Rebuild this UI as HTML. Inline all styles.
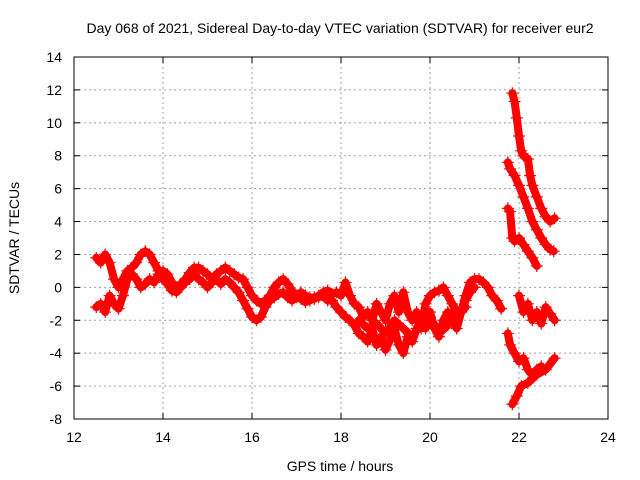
<!DOCTYPE html>
<html><head><meta charset="utf-8"><style>
body{margin:0;background:#fff}
svg{display:block;font-family:"Liberation Sans",sans-serif}
</style></head><body>
<svg id="c" width="640" height="480"></svg>
<script>
const xTicks=[12,14,16,18,20,22,24];
const yTicks=[-8,-6,-4,-2,0,2,4,6,8,10,12,14];
const s1t=[12.5,12.6,12.7,12.8,12.9,13.0,13.1,13.2,13.3,13.4,13.5,13.6,13.7,13.8,13.9,14.0,14.1,14.2,14.3,14.4,14.5,14.6,14.7,14.8,14.9,15.0,15.1,15.2,15.3,15.4,15.5,15.6,15.7,15.8,15.9,16.0,16.1,16.2,16.3,16.4,16.5,16.6,16.7,16.8,16.9,17.0,17.1,17.2,17.3,17.4,17.5,17.6,17.7,17.8,17.9,18.0,18.1,18.2,18.3,18.4,18.5,18.6,18.7,18.8,18.9,19.0,19.1,19.2,19.3,19.4,19.5,19.6,19.7,19.8,19.9,20.0,20.1,20.2,20.3,20.4,20.5,20.6,20.7,20.8,20.9,21.0,21.1,21.2,21.3,21.4,21.5,21.6];
const s1v=[1.8,1.5,2.0,1.5,0.5,0.0,0.5,1.0,1.2,1.5,2.0,2.2,2.0,1.5,1.0,1.0,0.8,0.3,0.0,0.2,0.5,0.9,1.2,1.2,1.0,0.8,0.5,0.8,1.0,1.2,1.0,0.8,0.6,0.5,0.0,-0.5,-0.8,-1.0,-0.8,-0.5,0.0,0.3,0.5,0.2,-0.2,-0.5,-0.3,-0.5,-0.6,-0.7,-0.5,-0.3,-0.2,-0.4,-0.3,-0.5,0.3,-0.5,-1.0,-1.2,-1.8,-1.5,-2.0,-1.0,-1.5,-2.0,-1.0,-0.5,-1.5,-0.3,-1.5,-2.0,-1.5,-2.5,-1.0,-0.5,-0.3,-0.2,0.0,-0.5,-1.0,-1.5,-1.5,-0.5,0.3,0.5,0.5,0.3,0.0,-0.5,-0.8,-1.3];
const s2t=[12.5,12.6,12.7,12.8,12.9,13.0,13.1,13.2,13.3,13.4,13.5,13.6,13.7,13.8,13.9,14.0,14.1,14.2,14.3,14.4,14.5,14.6,14.7,14.8,14.9,15.0,15.1,15.2,15.3,15.4,15.5,15.6,15.7,15.8,15.9,16.0,16.1,16.2,16.3,16.4,16.5,16.6,16.7,16.8,16.9,17.0,17.1,17.2,17.3,17.4,17.5,17.6,17.7,17.8,17.9,18.0,18.1,18.2,18.3,18.4,18.5,18.6,18.7,18.8,18.9,19.0,19.1,19.2,19.3,19.4,19.5,19.6,19.7,19.8,19.9,20.0,20.1,20.2,20.3,20.4,20.5,20.6,20.7,20.8,20.9,21.0];
const s2v=[-1.2,-1.0,-1.5,-0.5,-1.0,-1.3,-0.5,0.5,0.8,0.5,0.0,0.2,0.5,0.3,0.8,0.5,0.2,-0.2,-0.3,0.0,0.3,0.5,0.8,0.5,0.3,0.0,0.3,0.5,0.2,0.5,0.3,0.0,-0.3,-0.8,-1.3,-1.8,-2.0,-1.8,-1.2,-0.8,-0.6,-0.4,-0.3,-0.6,-0.8,-0.6,-0.7,-0.9,-0.8,-0.6,-0.6,-0.5,-0.8,-0.8,-1.2,-1.5,-1.8,-2.0,-2.3,-2.8,-3.0,-3.3,-2.5,-3.5,-3.0,-3.8,-3.2,-2.5,-3.5,-4.0,-3.0,-3.3,-2.5,-2.0,-2.5,-1.5,-2.5,-3.0,-2.0,-1.5,-2.0,-2.5,-1.5,-0.8,-0.3,0.0];
const s3t=[21.85,21.9,21.95,22.0,22.05,22.1,22.2,22.25,22.3,22.4,22.5,22.6,22.7,22.8];
const s3v=[11.8,11.3,10.3,9.2,8.3,8.0,7.8,6.8,6.2,5.5,4.8,4.3,4.0,4.2];
const s4t=[21.75,21.8,21.9,22.0,22.1,22.2,22.3,22.4,22.5,22.6,22.7,22.78];
const s4v=[7.6,7.2,6.8,6.2,5.5,4.8,4.0,3.5,3.0,2.6,2.3,2.2];
const s5t=[21.75,21.8,21.85,21.9,22.0,22.1,22.2,22.3,22.4];
const s5v=[4.8,4.6,3.0,2.8,3.0,2.6,2.2,1.8,1.3];
const s6t=[21.75,21.8,21.9,22.0,22.1,22.2,22.3,22.4,22.5];
const s6v=[-2.8,-3.5,-4.0,-4.5,-4.3,-5.0,-5.3,-5.0,-4.8];
const s7t=[21.85,21.95,22.05,22.2,22.4,22.6,22.8];
const s7v=[-7.1,-6.6,-6.0,-5.8,-5.3,-5.0,-4.3];
const s8t=[22.0,22.1,22.2,22.3,22.4,22.5,22.6,22.7,22.8];
const s8v=[-0.5,-1.5,-1.0,-2.0,-1.5,-2.2,-1.2,-1.6,-2.0];
const s9t=[18.4,18.6,18.8,19.0,19.2,19.4,19.6,19.8,20.0,20.2,20.4,20.6,20.8];
const s9v=[-2.0,-2.5,-2.2,-2.8,-2.0,-2.5,-3.0,-2.2,-1.8,-2.8,-2.3,-1.8,-1.2];
const series=[[s1t,s1v],[s2t,s2v],[s3t,s3v],[s4t,s4v],[s5t,s5v],[s6t,s6v],[s7t,s7v],[s8t,s8v],[s9t,s9v]];

const L=74,R=608,T=57,B=419;
const X=t=>L+(t-12)/12*(R-L);
const Y=v=>B-(v+8)/22*(B-T);
const svg=document.getElementById('c');
const NS='http://www.w3.org/2000/svg';
function mk(tag,at,parent){const e=document.createElementNS(NS,tag);for(const k in at)e.setAttribute(k,at[k]);(parent||svg).appendChild(e);return e;}

const grid=mk('g',{});


xTicks.forEach(t=>{
  if(t>12&&t<24){const l=mk('line',{x1:X(t),x2:X(t),y1:T,y2:B,stroke:'#a0a0a0','stroke-dasharray':'2,3'},grid);
  
  }
  const tx=mk('text',{x:X(t),y:B+23,'font-size':14,'text-anchor':'middle',fill:'#000'});
  tx.textContent=t;
  
  
  mk('line',{x1:X(t),x2:X(t),y1:B,y2:B-6,stroke:'#000'});
  mk('line',{x1:X(t),x2:X(t),y1:T,y2:T+6,stroke:'#000'});
});
yTicks.forEach(v=>{
  if(v>-8&&v<14){const l=mk('line',{x1:L,x2:R,y1:Y(v),y2:Y(v),stroke:'#a0a0a0','stroke-dasharray':'2,3'},grid);
  
  }
  const tx=mk('text',{x:L-12,y:Y(v)+5,'font-size':14,'text-anchor':'end',fill:'#000'});
  tx.textContent=v;
  
  
  mk('line',{x1:L,x2:L+6,y1:Y(v),y2:Y(v),stroke:'#000'});
  mk('line',{x1:R,x2:R-6,y1:Y(v),y2:Y(v),stroke:'#000'});
});

series.forEach((s,i)=>{
  const g=mk('g',{});
  
  
  const pts=s[0].map((t,j)=>X(t)+','+Y(s[1][j])).join(' ');
  mk('polyline',{points:pts,fill:'none',stroke:'#f00','stroke-width':8,'stroke-linejoin':'round','stroke-linecap':'round'},g);
  s[0].forEach((t,j)=>{
    const x=X(t),y=Y(s[1][j]);
    const p=mk('path',{d:`M${x-6},${y}H${x+6}M${x},${y-6}V${y+6}`,stroke:'#f00','stroke-width':1.2},g);
    
    
  });
});

const fr=mk('rect',{x:L,y:T,width:R-L,height:B-T,fill:'none',stroke:'#000'});


const ti=mk('text',{x:340,y:33,'font-size':14,'text-anchor':'middle'});
ti.textContent='Day 068 of 2021, Sidereal Day-to-day VTEC variation (SDTVAR) for receiver eur2';


const xl=mk('text',{x:340,y:471,'font-size':14,'text-anchor':'middle'});
xl.textContent='GPS time / hours';


const yl=mk('text',{x:0,y:0,'font-size':14,'text-anchor':'middle',transform:'translate(19,238) rotate(-90)'});
yl.textContent='SDTVAR / TECUs';


</script>
</body></html>
